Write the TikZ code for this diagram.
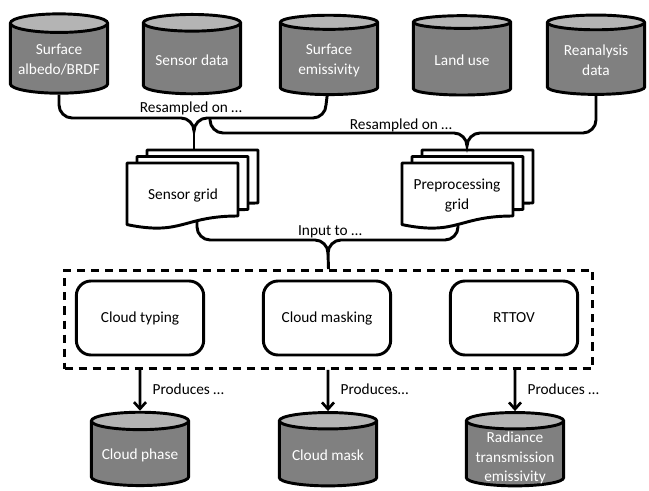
\documentclass[tikz,border=0pt]{standalone}
\usepackage{fontspec}
\setmainfont{Carlito}
\usetikzlibrary{arrows.meta, positioning, shapes.geometric}

\definecolor{canbody}{RGB}{128,128,128}
\definecolor{cantop}{RGB}{180,180,180}

\tikzset{
  datastore/.style={cylinder, shape border rotate=90, aspect=0.22, draw, line width=2.2pt,
    cylinder uses custom fill, cylinder body fill=canbody, cylinder end fill=cantop,
    minimum width=73pt, minimum height=59.5pt, inner sep=1pt, align=center,
    text=white, font=\fontsize{11.5}{15}\selectfont},
  storetext/.style={inner sep=1pt, align=center, text=white, font=\fontsize{11.5}{14.5}\selectfont},
  process/.style={draw, rounded corners=11pt, line width=2.2pt, minimum width=95.5pt,
    minimum height=55.5pt, font=\fontsize{11.5}{15}\selectfont},
  groupbox/.style={draw, line width=2.2pt, dash pattern=on 6pt off 4.5pt, inner sep=0pt,
    minimum width=396pt, minimum height=73.5pt},
  sheet/.style={line width=2.2pt, line join=round, fill=white},
  link/.style={line width=2.2pt},
  produces/.style={link, -{Straight Barb[length=5pt,width=9pt,line width=2pt]}},
  caption/.style={inner sep=1pt, font=\fontsize{11.5}{15}\selectfont}
}

\begin{document}
\begin{tikzpicture}[x=0.75pt,y=0.75pt,yscale=-1,xscale=1]
\useasboundingbox (0,0) rectangle (649,491);

%Shape: Can (inputs)
\node[datastore] (albedo) at (59,60) {Surface\\albedo/BRDF};
\node[datastore] (sensor) at (192,60) {Sensor data};
\node[datastore] (emiss) at (329,60) {Surface\\emissivity};
\node[datastore] (landuse) at (462,60) {Land use};
\node[datastore] (reanal) at (596,60) {Reanalysis\\data};

%Shape: Multidocument (three sheets, back one first)
\foreach \sx in {127,402}
  \foreach \dx/\dy in {20/-13,10/-6.5,0/0}
    \draw[sheet, shift={(\sx+\dx,163+\dy)}] (0,0) -- (111,0) -- (111,53)
      .. controls (55.5,53) and (55.5,73) .. (0,61.6) -- cycle;
\coordinate (sgtop) at (194,150);
\coordinate (sgbot) at (197,221);
\coordinate (pptop) at (467,150);
\coordinate (ppbot) at (458,224);
% Text Node
\node[caption, align=center] (sgrid) at (183,195) {Sensor grid};
\node[caption, align=center] (pgrid) at (457,196) {Preprocessing\\grid};

%Shape: Dashed box and processes
\node[groupbox] (engine) at (328.5,319.5) {};
\node[process] (typing) at (140,318) {Cloud typing};
\node[process] (masking) at (327,318) {Cloud masking};
\node[process] (rttov) at (514,318) {RTTOV};

%Shape: Can (outputs)
\node[datastore, minimum height=55pt] (phase) at (140,455) {Cloud phase};
\node[datastore, minimum height=55pt] (mask) at (328,455) {Cloud mask};
\node[datastore, minimum height=55pt] (radiance) at (515,455) {\phantom{Cloud mask}};
\node[storetext] (radtext) at (515,458) {Radiance\\transmission\\emissivity};

%Braces
\coordinate (tipA) at (194,131);
\coordinate (hookB) at (210,118);
\coordinate (tipB) at (467,146);
\coordinate (tipC) at (328,253);

\draw[link] (albedo.-90) -- (59,105) .. controls (59,112) and (65,118) .. (72,118)
  -- (181,118) .. controls (188,118) and (194,124) .. (tipA)
  .. controls (194,124) and (200,118) .. (207,118)
  -- (313,118) .. controls (320,118) and (326,112) .. (326,105) -- (emiss.-93);
\draw[link] (tipA) -- (sgtop);

\draw[link] (hookB) -- (210,120) .. controls (210,127) and (216,133) .. (223,133)
  -- (454,133) .. controls (461,133) and (467,139) .. (tipB)
  .. controls (467,139) and (473,133) .. (480,133)
  -- (583,133) .. controls (590,133) and (596,127) .. (596,120) -- (reanal.-90);
\draw[link] (tipB) -- (pptop);

\draw[link] (sgbot) -- (197,227) .. controls (197,234) and (203,240) .. (210,240)
  -- (315,240) .. controls (322,240) and (328,246) .. (tipC)
  .. controls (328,246) and (334,240) .. (341,240)
  -- (445,240) .. controls (452,240) and (458,234) .. (458,227) -- (ppbot);
\draw[link] (tipC) -- (engine.north);

%Arrows
\draw[produces] (engine.south -| phase) -- (phase.90);
\draw[produces] (engine.south -| mask) -- (mask.90);
\draw[produces] (engine.south -| radiance) -- (radiance.90);

% Text Node
\node[caption] (resA) at (191,108) {Resampled on …};
\node[caption] (resB) at (401,125) {Resampled on …};
\node[caption] (inputC) at (330,232) {Input to …};
\node[caption, anchor=west] (prodA) at (151,389) {Produces …};
\node[caption, anchor=west] (prodB) at (339,389) {Produces…};
\node[caption, anchor=west] (prodC) at (526,389) {Produces …};

\end{tikzpicture}
\end{document}
